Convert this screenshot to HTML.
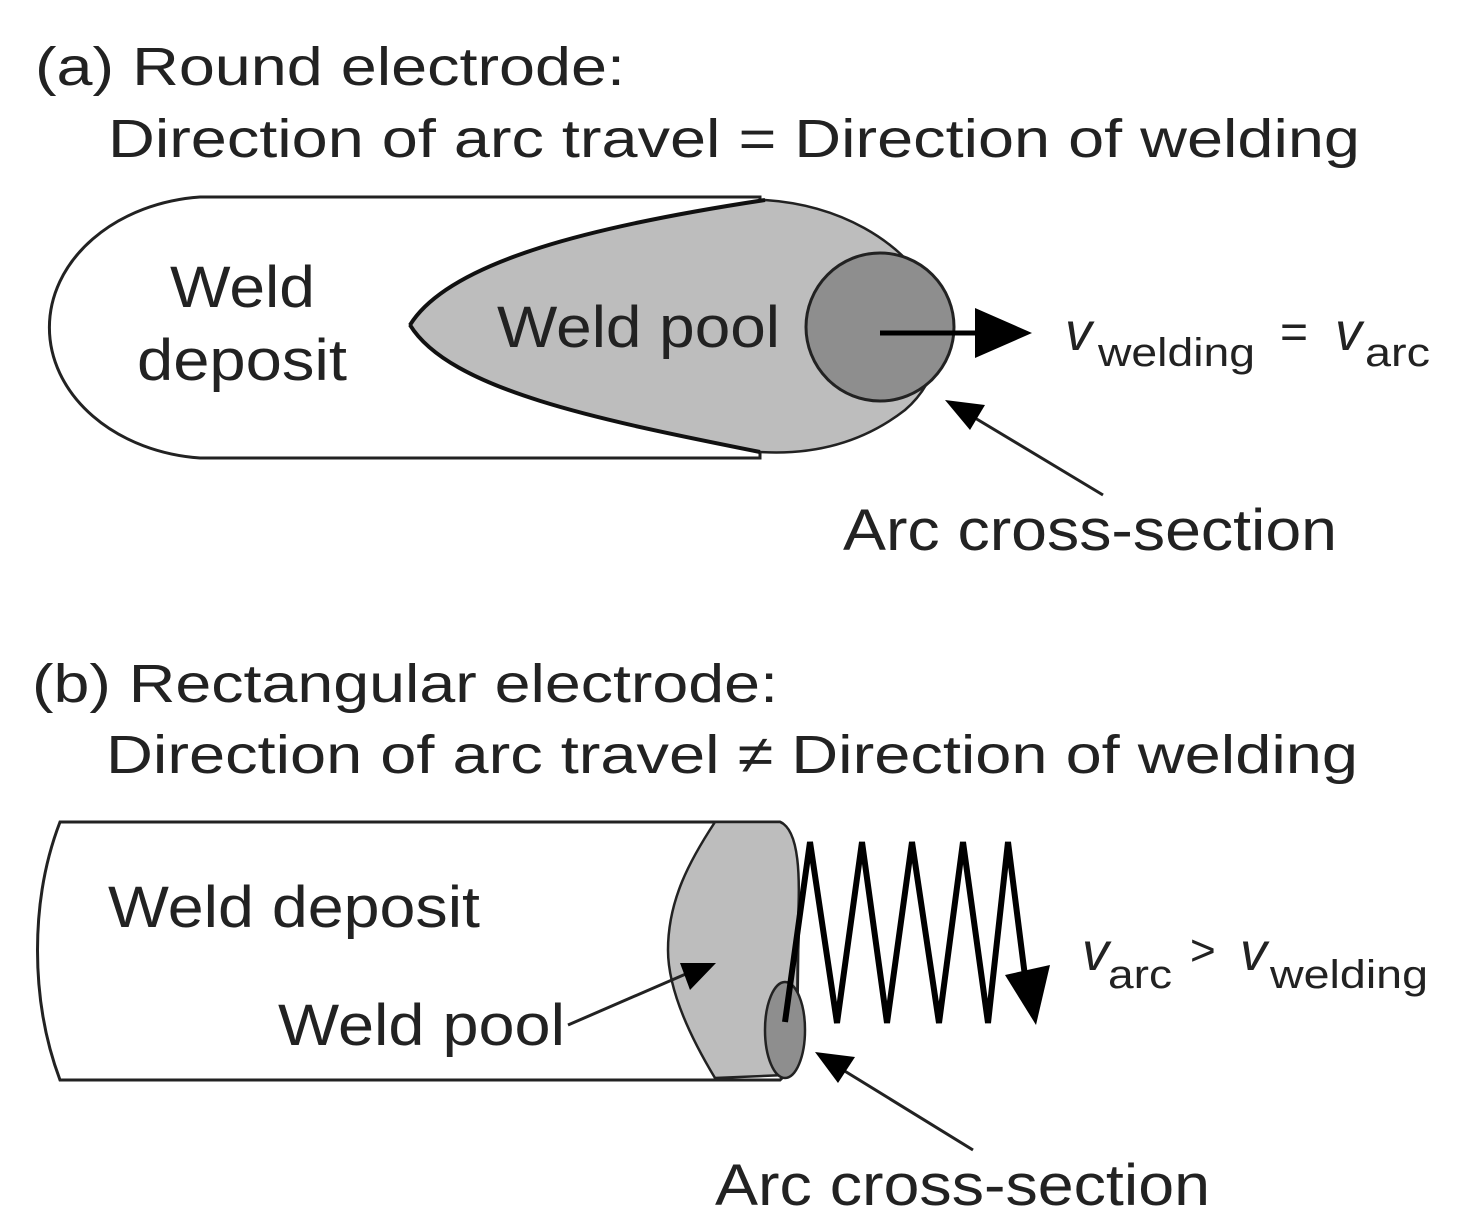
<html><body style="margin:0;background:#fff">
<svg width="1469" height="1230" viewBox="0 0 1469 1230" xmlns="http://www.w3.org/2000/svg" font-family="Liberation Sans, Arial, sans-serif" fill="#000">
<g lengthAdjust="spacingAndGlyphs">
<text x="35" y="85" font-size="54" fill="#222" textLength="590" lengthAdjust="spacingAndGlyphs">(a) Round electrode:</text>
<text x="108" y="157" font-size="54" fill="#222" textLength="1252" lengthAdjust="spacingAndGlyphs">Direction of arc travel = Direction of welding</text>
</g>
<path d="M200,197 L760,197 L760,458 L200,458 A165,131 0 0 1 200,197 Z" fill="#fff" stroke="#222" stroke-width="3"/>
<path d="M410,325 C450,260 600,225 765,200 C840,205 900,240 930,290 C950,330 940,380 905,410 C860,445 810,455 760,452 C600,420 450,390 410,325 Z" fill="#bdbdbd" stroke="#222" stroke-width="2.5"/>
<path d="M410,325 C450,260 600,225 765,200 M410,325 C450,390 600,420 760,452" fill="none" stroke="#111" stroke-width="4"/>
<circle cx="880" cy="327" r="74" fill="#8e8e8e" stroke="#222" stroke-width="3"/>
<line x1="880" y1="333" x2="985" y2="333" stroke="#000" stroke-width="5"/>
<polygon points="975,308 1032,333 975,358" fill="#000"/>
<text x="170" y="307" font-size="58" fill="#222" textLength="145" lengthAdjust="spacingAndGlyphs">Weld</text>
<text x="137" y="380" font-size="58" fill="#222" textLength="210" lengthAdjust="spacingAndGlyphs">deposit</text>
<text x="497" y="347" font-size="58" fill="#222" textLength="283" lengthAdjust="spacingAndGlyphs">Weld pool</text>
<text x="1065" y="350" font-size="54" font-style="italic" fill="#222">v</text>
<text x="1098" y="366" font-size="40" fill="#222" textLength="157" lengthAdjust="spacingAndGlyphs">welding</text>
<text x="1280" y="348" font-size="48" fill="#222">=</text>
<text x="1335" y="350" font-size="54" font-style="italic" fill="#222">v</text>
<text x="1365" y="366" font-size="40" fill="#222" textLength="65" lengthAdjust="spacingAndGlyphs">arc</text>
<line x1="1103" y1="495" x2="965" y2="412" stroke="#222" stroke-width="3"/>
<polygon points="945,400 985,405 970,430" fill="#000"/>
<text x="843" y="550" font-size="58" fill="#222" textLength="494" lengthAdjust="spacingAndGlyphs">Arc cross-section</text>

<text x="32" y="702" font-size="54" fill="#222" textLength="746" lengthAdjust="spacingAndGlyphs">(b) Rectangular electrode:</text>
<text x="106" y="773" font-size="54" fill="#222" textLength="1252" lengthAdjust="spacingAndGlyphs">Direction of arc travel ≠ Direction of welding</text>
<path d="M60,822 L780,822 C800,830 800,900 798,950 L797,1030 L785,1075 L780,1080 L60,1080 C30,1000 30,900 60,822 Z" fill="#fff" stroke="#222" stroke-width="3"/>
<path d="M715,822 L780,822 C800,830 800,880 798,920 L797,1030 L785,1075 L715,1078 C680,1020 668,980 668,950 C668,900 690,860 715,822 Z" fill="#bdbdbd" stroke="#222" stroke-width="2.5"/>
<ellipse cx="785" cy="1030" rx="20" ry="48" fill="#8e8e8e" stroke="#222" stroke-width="2.5"/>
<polyline points="785,1022 810,842 837,1023 862,842 887,1023 912,842 939,1023 963,842 988,1023 1008,842 1028,1000" fill="none" stroke="#000" stroke-width="6" stroke-linejoin="miter"/>
<polygon points="1005,975 1050,965 1036,1025" fill="#000"/>
<text x="108" y="927" font-size="58" fill="#222" textLength="372" lengthAdjust="spacingAndGlyphs">Weld deposit</text>
<text x="278" y="1045" font-size="58" fill="#222" textLength="287" lengthAdjust="spacingAndGlyphs">Weld pool</text>
<line x1="568" y1="1025" x2="695" y2="970" stroke="#222" stroke-width="3"/>
<polygon points="716,963 680,963 690,990" fill="#000"/>
<text x="1082" y="970" font-size="54" font-style="italic" fill="#222">v</text>
<text x="1108" y="988" font-size="40" fill="#222" textLength="64" lengthAdjust="spacingAndGlyphs">arc</text>
<text x="1190" y="965" font-size="44" fill="#222">&gt;</text>
<text x="1240" y="970" font-size="54" font-style="italic" fill="#222">v</text>
<text x="1270" y="988" font-size="40" fill="#222" textLength="158" lengthAdjust="spacingAndGlyphs">welding</text>
<line x1="973" y1="1150" x2="830" y2="1062" stroke="#222" stroke-width="3"/>
<polygon points="815,1052 855,1057 838,1083" fill="#000"/>
<text x="715" y="1205" font-size="58" fill="#222" textLength="495" lengthAdjust="spacingAndGlyphs">Arc cross-section</text>
</svg>
</body></html>
